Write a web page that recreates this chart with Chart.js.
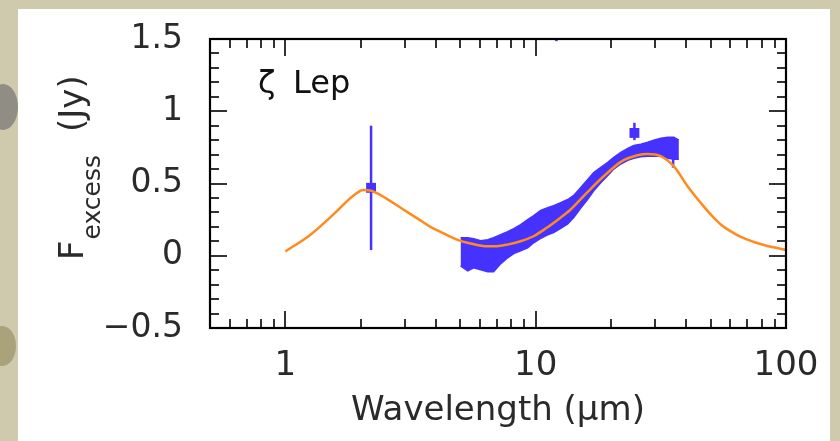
<!DOCTYPE html>
<html><head><meta charset="utf-8">
<script src="https://cdn.jsdelivr.net/npm/chart.js@4.4.1/dist/chart.umd.min.js"></script>
<style>
html,body{margin:0;padding:0;width:840px;height:441px;overflow:hidden;background:#cfcaae;}
#panel{position:absolute;left:18px;top:9px;width:812px;height:432px;background:#fff;}
.blob{position:absolute;border-radius:50%;}
#wrap{position:absolute;left:0;top:0;width:840px;height:441px;}
</style></head><body>
<div class="blob" style="left:-12px;top:84px;width:30px;height:46px;background:#8f8d84"></div>
<div class="blob" style="left:-12px;top:326px;width:28px;height:40px;background:#aaa27a"></div>
<div id="panel"></div>
<div id="wrap"><canvas id="c" width="840" height="441"></canvas></div>
<script>
// ---- data ----
const modelX = [1.0, 1.26, 1.61, 1.85, 2.05, 2.2, 2.4, 2.96, 3.5, 3.8, 4.17, 4.87, 5.5, 6.4, 7.0, 7.7, 8.7, 9.8, 11.0, 12.6, 13.8, 16.1, 18.7, 21.9, 25.5, 28.0, 31.6, 35.6, 40.5, 47, 51, 55, 60, 66, 76, 88, 100];
const modelY = [0.030, 0.146, 0.31, 0.41, 0.455, 0.45, 0.42, 0.32, 0.24, 0.20, 0.165, 0.11, 0.085, 0.065, 0.066, 0.077, 0.10, 0.135, 0.19, 0.265, 0.32, 0.44, 0.55, 0.65, 0.695, 0.705, 0.69, 0.62, 0.48, 0.34, 0.27, 0.215, 0.17, 0.13, 0.09, 0.06, 0.04];

const specX = [5.01, 5.35, 5.65, 6.03, 6.43, 6.79, 7.24, 7.73, 8.17, 8.71, 9.29, 9.82, 10.47, 11.17, 11.80, 12.59, 13.43, 14.19, 15.14, 16.14, 17.06, 18.20, 19.41, 20.51, 21.88, 23.33, 24.66, 26.30, 28.05, 29.65, 31.62, 33.73, 35.65, 37.33];
const specHigh = [0.125, 0.125, 0.118, 0.104, 0.111, 0.125, 0.146, 0.167, 0.188, 0.215, 0.25, 0.278, 0.313, 0.333, 0.347, 0.368, 0.389, 0.417, 0.472, 0.528, 0.576, 0.611, 0.646, 0.681, 0.715, 0.743, 0.764, 0.771, 0.785, 0.80, 0.813, 0.82, 0.82, 0.80];
const specLow = [-0.07, -0.104, -0.083, -0.097, -0.111, -0.111, -0.056, -0.014, 0.015, 0.035, 0.055, 0.09, 0.12, 0.145, 0.16, 0.19, 0.22, 0.265, 0.33, 0.39, 0.45, 0.505, 0.555, 0.60, 0.635, 0.66, 0.675, 0.685, 0.688, 0.688, 0.688, 0.674, 0.667, 0.667];

const photX = [2.2, 24.8];
const photY = [0.47, 0.85];
const photLo = [0.04, 0.80];
const photHi = [0.90, 0.92];

const extraX = [35.4, 12.1];
const extraLo = [0.61, 1.485];
const extraHi = [0.67, 1.505];

const xTickLabels = [1, 10, 100];
const xMinorTicks = [0.6, 0.7, 0.8, 0.9, 2, 3, 4, 5, 6, 7, 8, 9, 20, 30, 40, 50, 60, 70, 80, 90];
const yTickLabels = [-0.5, 0, 0.5, 1, 1.5];
const yMinorTicks = [-0.4, -0.3, -0.2, -0.1, 0.1, 0.2, 0.3, 0.4, 0.6, 0.7, 0.8, 0.9, 1.1, 1.2, 1.3, 1.4];

const BLUE = '#4632ff';
const ORANGE = '#ff8a1e';

Chart.defaults.font.family = 'DejaVu Sans';

const pts = (xs, ys) => xs.map((x, i) => ({x: x, y: ys[i]}));

const datasets = [
  {label: 'model', data: pts(modelX, modelY), borderColor: ORANGE, borderWidth: 2.5, pointRadius: 0, fill: false, cubicInterpolationMode: 'monotone', order: 0},
  {label: 'specLow', data: pts(specX, specLow), borderColor: BLUE, borderWidth: 1.5, pointRadius: 0, fill: false, tension: 0, order: 3},
  {label: 'specHigh', data: pts(specX, specHigh), borderColor: BLUE, borderWidth: 1.5, pointRadius: 0, fill: '-1', backgroundColor: BLUE, tension: 0, order: 3},
  {label: 'phot', data: pts(photX, photY), showLine: false, pointStyle: 'rect', pointRadius: 7, backgroundColor: BLUE, borderColor: BLUE, borderWidth: 0, order: 1}
];
photX.forEach((x, i) => {
  datasets.push({label: 'err' + i, data: [{x: x, y: photLo[i]}, {x: x, y: photHi[i]}], borderColor: BLUE, borderWidth: 2.5, pointRadius: 0, fill: false, order: 2});
});
extraX.forEach((x, i) => {
  datasets.push({label: 'ex' + i, data: [{x: x, y: extraLo[i]}, {x: x, y: extraHi[i]}], borderColor: BLUE, borderWidth: 2.5, pointRadius: 0, fill: false, order: 2, clip: false});
});

const framePlugin = {
  id: 'frame',
  afterDraw(chart) {
    const ctx = chart.ctx, a = chart.chartArea;
    const xs = chart.scales.x, ys = chart.scales.y;
    ctx.save();
    ctx.strokeStyle = '#333';
    ctx.lineWidth = 2;
    const MAJ = 17, MIN = 9;
    const vt = (v, len) => {
      const p = Math.round(xs.getPixelForValue(v));
      ctx.beginPath();
      ctx.moveTo(p, a.bottom); ctx.lineTo(p, a.bottom - len);
      ctx.moveTo(p, a.top); ctx.lineTo(p, a.top + len);
      ctx.stroke();
    };
    const ht = (v, len) => {
      const p = Math.round(ys.getPixelForValue(v));
      ctx.beginPath();
      ctx.moveTo(a.left, p); ctx.lineTo(a.left + len, p);
      ctx.moveTo(a.right, p); ctx.lineTo(a.right - len, p);
      ctx.stroke();
    };
    xTickLabels.forEach(v => vt(v, MAJ));
    xMinorTicks.forEach(v => vt(v, MIN));
    yTickLabels.forEach(v => ht(v, MAJ));
    yMinorTicks.forEach(v => ht(v, MIN));
    ctx.strokeStyle = '#000';
    ctx.lineWidth = 2.2;
    ctx.strokeRect(a.left, a.top, a.right - a.left, a.bottom - a.top);

    // star label
    ctx.fillStyle = '#111';
    ctx.font = '32px "DejaVu Sans"';
    ctx.textBaseline = 'alphabetic';
    ctx.textAlign = 'left';
    ctx.fillText('ζ', a.left + 48, a.top + 54);
    ctx.fillText('Lep', a.left + 83, a.top + 54);

    // y axis title with subscript
    ctx.fillStyle = '#2a2a2a';
    ctx.translate(83, 260);
    ctx.rotate(-Math.PI / 2);
    ctx.font = '34px "DejaVu Sans"';
    ctx.fillText('F', 0, 0);
    let w = ctx.measureText('F').width;
    ctx.font = '25px "DejaVu Sans"';
    ctx.fillText('excess', w + 1, 17);
    ctx.font = '34px "DejaVu Sans"';
    ctx.fillText('(Jy)', 128, 0);
    ctx.restore();
  }
};

new Chart(document.getElementById('c'), {
  type: 'line',
  data: {datasets: datasets},
  options: {
    responsive: false,
    animation: false,
    devicePixelRatio: 1,
    layout: {padding: {left: 0, top: 39, right: 54, bottom: 0}},
    plugins: {legend: {display: false}, tooltip: {enabled: false}},
    scales: {
      x: {
        type: 'logarithmic', min: 0.5, max: 100,
        grid: {display: false, drawTicks: false},
        border: {display: false},
        afterBuildTicks: s => { s.ticks = xTickLabels.map(v => ({value: v})); },
        afterFit: s => { s.height = 113; s.paddingLeft = 0; s.paddingRight = 0; },
        ticks: {color: '#2a2a2a', font: {size: 34}, padding: 18, maxRotation: 0, autoSkip: false, callback: v => String(v)},
        title: {display: true, text: 'Wavelength (μm)', color: '#2a2a2a', font: {size: 34}, padding: {top: 0, bottom: 9}}
      },
      y: {
        type: 'linear', min: -0.5, max: 1.5,
        grid: {display: false, drawTicks: false},
        border: {display: false},
        afterBuildTicks: s => { s.ticks = yTickLabels.map(v => ({value: v})); },
        afterFit: s => { s.width = 210; s.paddingTop = 0; s.paddingBottom = 0; },
        ticks: {color: '#2a2a2a', font: {size: 33}, padding: 27, callback: v => (v < 0 ? '\u2212' + Math.abs(v) : String(v))}
      }
    }
  },
  plugins: [framePlugin]
});
</script>
</body></html>
